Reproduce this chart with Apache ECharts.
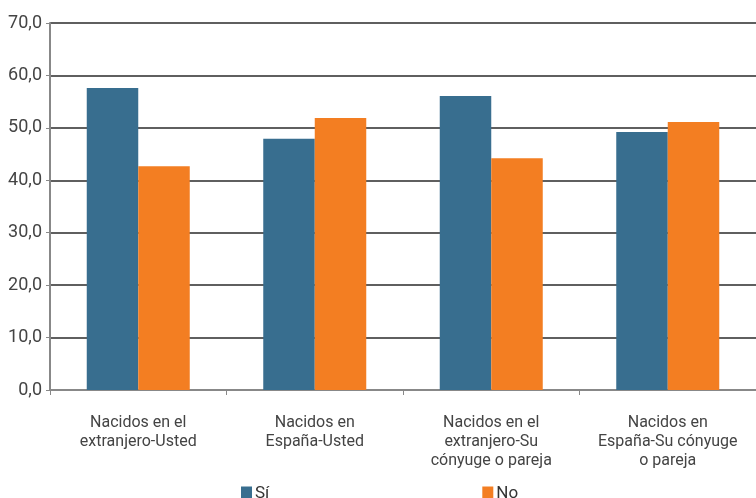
<!DOCTYPE html>
<html><head><meta charset="utf-8">
<script src="https://cdn.jsdelivr.net/npm/echarts@6/dist/echarts.min.js"></script>
<style>html,body{margin:0;padding:0;background:#fff}#c{width:756px;height:498px}</style>
</head><body><div id="c"></div>
<script>
const categories = ["Nacidos en el\nextranjero-Usted", "Nacidos en\nEspaña-Usted", "Nacidos en el\nextranjero-Su\ncónyuge o pareja", "Nacidos en\nEspaña-Su cónyuge\no pareja"];
const seriesNames = ["Sí", "No"];
const valuesSi = [57.6, 47.9, 56.1, 49.2];
const valuesNo = [42.7, 51.9, 44.2, 51.1];
const font = "Roboto, 'Liberation Sans', sans-serif";
const chart = echarts.init(document.getElementById('c'));
chart.setOption({
  animation: false,
  textStyle: {fontFamily: font},
  grid: {left: 50, top: 23, width: 713, height: 367, containLabel: false},
  legend: {
    data: seriesNames, top: 480, left: 236, itemWidth: 11, itemHeight: 14, itemGap: 213,
    icon: 'rect', textStyle: {fontFamily: font, fontSize: 17, color: '#333', padding: [0,0,0,-2]}
  },
  xAxis: {
    type: 'category', data: categories,
    axisLine: {lineStyle: {color: '#888', width: 2}},
    axisTick: {show: true, length: 5, lineStyle: {color: '#888', width: 1}},
    axisLabel: {fontFamily: font, fontSize: 16, color: '#444', lineHeight: 19, margin: 23, interval: 0}
  },
  yAxis: {
    type: 'value', min: 0, max: 70, interval: 10,
    axisLine: {show: true, lineStyle: {color: '#888', width: 2}},
    axisTick: {show: true, length: 4, lineStyle: {color: '#888'}},
    splitLine: {lineStyle: {color: '#2a2a2a', width: 1.5}},
    axisLabel: {fontFamily: font, fontSize: 18, color: '#444', margin: 8,
      formatter: v => v.toFixed(1).replace('.', ',')}
  },
  series: [
    {name: seriesNames[0], type: 'bar', data: valuesSi, barWidth: 51.5, barGap: '0%', itemStyle: {color: '#386E8F'}},
    {name: seriesNames[1], type: 'bar', data: valuesNo, barWidth: 51.5, itemStyle: {color: '#F37E22'}}
  ]
});
</script></body></html>
